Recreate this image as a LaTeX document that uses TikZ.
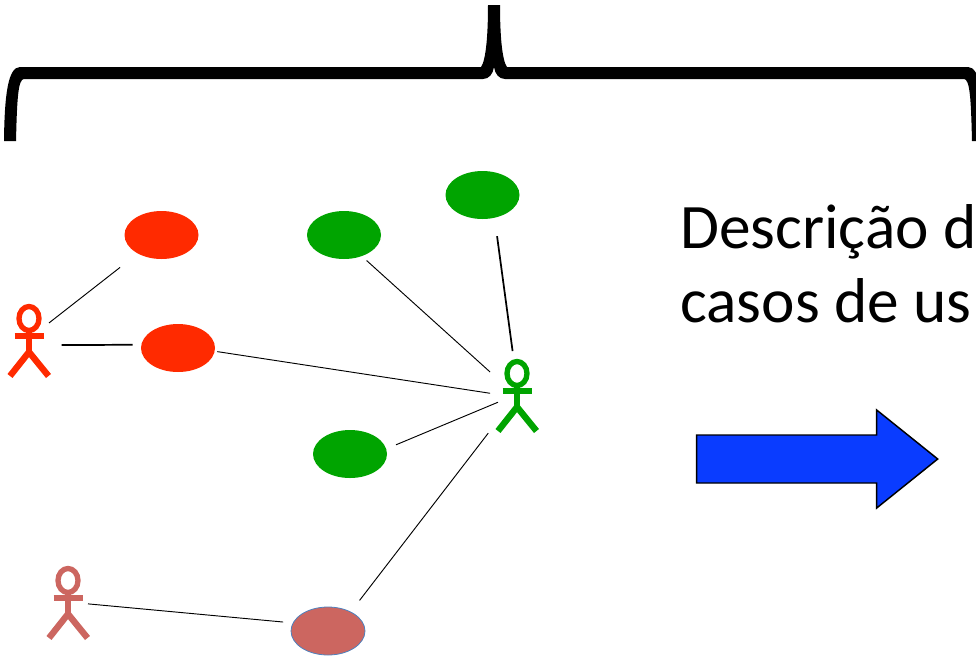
\documentclass[tikz,border=0pt]{standalone}
\usepackage{fontspec}
\setmainfont{Carlito}
\usetikzlibrary{shapes.geometric}
\definecolor{actred}{HTML}{FF2A00}
\definecolor{actgreen}{HTML}{00A400}
\definecolor{actbrown}{HTML}{CC6660}
\definecolor{arrowblue}{HTML}{0A3CFF}
\definecolor{ovaledge}{HTML}{4F81BD}
\tikzset{
  usecase/.style={ellipse,minimum width=55.5pt,minimum height=36pt,inner sep=0pt,outer sep=0pt},
  actorbox/.style={rectangle,minimum width=29.25pt,minimum height=54.75pt,inner sep=0pt,outer sep=0pt},
  limb/.style={line width=4.8pt},
  ring/.style={line width=4pt},
  conn/.style={black,line width=0.7pt},
  connthick/.style={black,line width=1.3pt}
}
\newcommand{\ActorAt}[4]{%
  \begin{scope}[shift={(#1,#2)},#3]
    \node[actorbox] (#4) at (29.5,340.5) {};
    \draw[ring] (29,318.5) ellipse [x radius=10,y radius=12];
    \draw[limb] (14.5,336) -- (43.5,336);
    \draw[limb] (29,330) -- (29,352);
    \draw[limb] (10,376) -- (29,352) -- (48.5,376);
  \end{scope}}
\begin{document}
\begin{tikzpicture}[x=0.75pt,y=-0.75pt]
\useasboundingbox (0,0) rectangle (976,658);
% brace
\fill[black] (4,141) .. controls (4.5,95) and (8,67) .. (20,67)
  -- (481,67) .. controls (486,60) and (488,35) .. (488,5)
  -- (500,5) .. controls (500,35) and (502,60) .. (507,67)
  -- (968,67) .. controls (980,67) and (983,95) .. (984,141)
  -- (972,141) .. controls (971,100) and (970,79) .. (964,79)
  -- (505,79) .. controls (499,79) and (495,74) .. (494,67)
  .. controls (493,74) and (489,79) .. (483,79)
  -- (24,79) .. controls (18,79) and (17,100) .. (16,141) -- cycle;
% use cases
\node[usecase,fill=actred] (r1) at (161.5,235) {};
\node[usecase,fill=actred] (r2) at (178,348) {};
\node[usecase,fill=actgreen] (g1) at (344,235) {};
\node[usecase,fill=actgreen] (g2) at (482.5,195) {};
\node[usecase,fill=actgreen] (g3) at (350,454) {};
\node[usecase,fill=actbrown,draw=ovaledge,line width=0.6pt] (b1) at (328,631) {};
% actors
\ActorAt{0}{0}{color=actred}{ra}
\ActorAt{488}{55}{color=actgreen}{ga}
\ActorAt{39}{262}{color=actbrown}{ba}
% connectors
\draw[conn,shorten >=17pt] (ra.42) -- (r1);
\draw[connthick,shorten <=9.5pt,shorten >=6.5pt] (ra.-13) -- (r2.175);
\draw[conn,shorten <=2pt,shorten >=6pt] (r2.-5.6) -- (ga.177);
\draw[conn,shorten <=5pt,shorten >=8pt] (g1.-50) -- (ga.140);
\draw[connthick,shorten <=14pt,shorten >=6pt] (g2.-62) -- (ga.96);
\draw[conn,shorten <=8pt] (g3.8) -- (ga.199);
\draw[conn,shorten <=11pt,shorten >=12pt] (b1.40) -- (ga.232);
\draw[conn,shorten >=7.5pt] (ba.-4) -- (b1.167);
% block arrow
\draw[fill=arrowblue,draw=black,line width=1.1pt,miter limit=10]
  (696.7,435) -- (876.7,435) -- (876.7,410) -- (937.7,459) -- (876.7,508) -- (876.7,483) -- (696.7,483) -- cycle;
% text
\node[anchor=base west,inner sep=0pt,align=left,font=\fontsize{47.5pt}{55.5pt}\selectfont] (desc) at (680,322) {Descrição d\\casos de us};
\end{tikzpicture}
\end{document}
